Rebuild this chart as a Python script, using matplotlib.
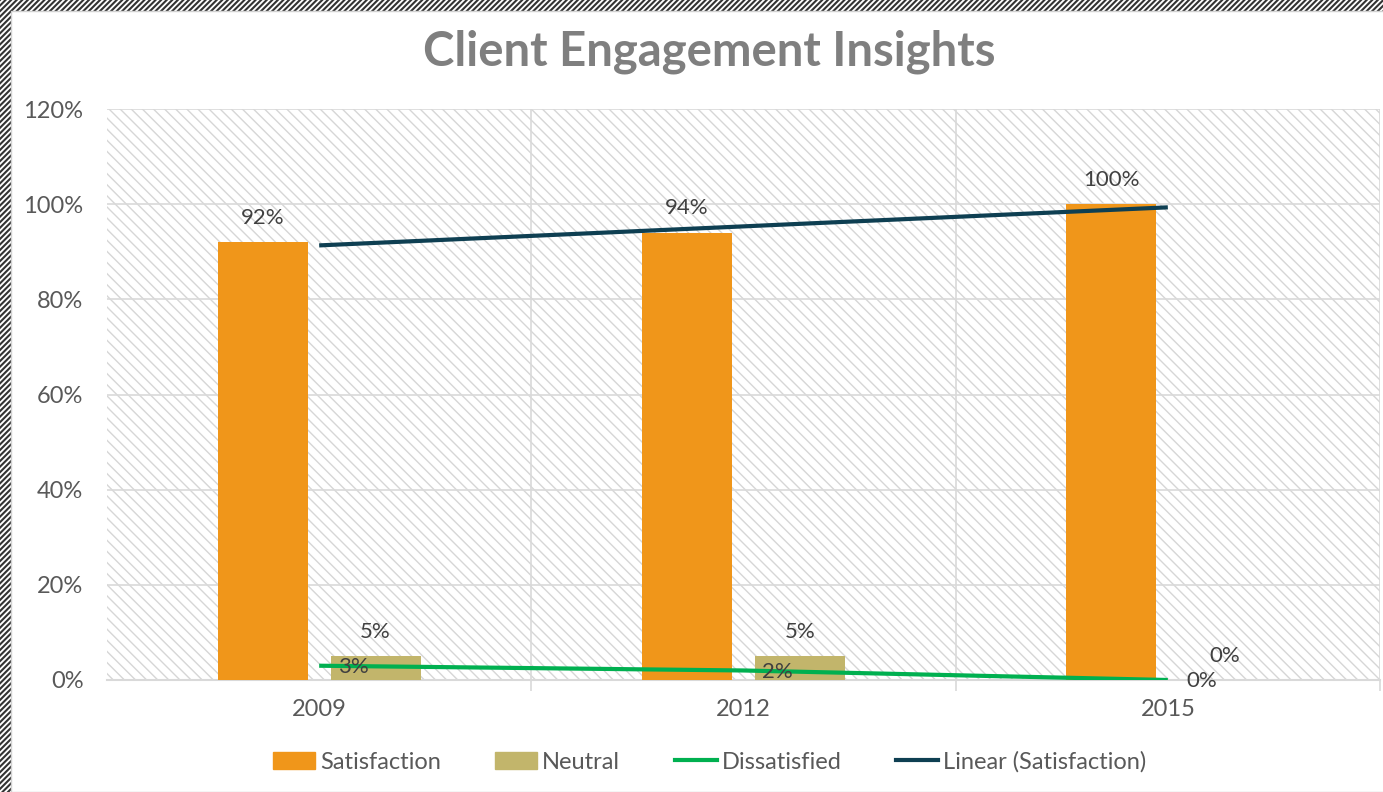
import numpy as np
import matplotlib
matplotlib.use("Agg")
import matplotlib.pyplot as plt
from matplotlib.patches import Rectangle, Patch
from matplotlib.lines import Line2D

# data
years = ["2009", "2012", "2015"]
satisfaction = [92, 94, 100]
neutral = [5, 5, 0]
dissatisfied = [3, 2, 0]
yticks = [0, 20, 40, 60, 80, 100, 120]

c_sat = "#F0961A"
c_neu = "#C2B56B"
c_dis = "#00B050"
c_trend = "#0E3F52"
c_text = "#595959"

plt.rcParams['font.family'] = ['Lato', 'DejaVu Sans']

fig = plt.figure(figsize=(13.83, 7.92), dpi=100)
W, H = 1383, 792

# hatched outer border (top & left)
plt.rcParams['hatch.linewidth'] = 1.5
plt.rcParams['hatch.color'] = "#333333"
bg = Rectangle((0, 0), 1, 1, transform=fig.transFigure, facecolor="white",
               edgecolor="#333333", hatch="//////", linewidth=0, zorder=-3)
fig.patches.append(bg)
inner = Rectangle((11 / W, 0), 1, 1 - 11 / H, transform=fig.transFigure,
                  facecolor="white", edgecolor="#d0d0d0", linewidth=1, zorder=-2)
fig.patches.append(inner)

ax = fig.add_axes([107 / W, 1 - 680 / H, (1380 - 107) / W, (680 - 109) / H])
ax.patch.set_visible(False)

x = np.arange(len(years))
# hatched plot area
plt.rcParams['hatch.linewidth'] = 1.0
plt.rcParams['hatch.color'] = "#d6d6d6"
pa = Rectangle((0, 0), 1, 1, transform=ax.transAxes, facecolor="white",
               edgecolor="#d6d6d6", hatch="\\\\\\", linewidth=0, zorder=0)
ax.add_patch(pa)

bw = 0.212
off = 0.133
ax.bar(x - off, satisfaction, width=bw, color=c_sat, zorder=3)
ax.bar(x + off, neutral, width=bw, color=c_neu, zorder=3)
ax.plot(x, dissatisfied, color=c_dis, lw=3, zorder=4, solid_capstyle="butt")

a, b = np.polyfit(x, satisfaction, 1)
ax.plot(x, a * x + b, color=c_trend, lw=3, zorder=4, solid_capstyle="butt")

fs = 17
for i in range(len(years)):
    ax.text(x[i] - off, satisfaction[i] + 3, f"{satisfaction[i]}%", ha="center",
            va="bottom", fontsize=16, color="#404040", zorder=5)
    ax.text(x[i] + off, neutral[i] + 3, f"{neutral[i]}%", ha="center",
            va="bottom", fontsize=16, color="#404040", zorder=5)
    ax.text(x[i] + 0.08, dissatisfied[i] - 0.3, f"{dissatisfied[i]}%", ha="center",
            va="center", fontsize=16, color="#404040", zorder=5)

ax.set_xlim(-0.5, 2.5)
ax.set_ylim(0, 120)
ax.set_yticks(yticks)
ax.set_yticklabels([f"{v}%" for v in yticks])
ax.set_xticks(x)
ax.set_xticklabels(years)
ax.set_xticks([0.5, 1.5, 2.5], minor=True)
ax.tick_params(axis="x", which="major", length=0, pad=14, labelsize=fs, labelcolor=c_text)
ax.tick_params(axis="x", which="minor", length=8, color="#d9d9d9", width=1.2)
ax.tick_params(axis="y", length=0, pad=17, labelsize=fs, labelcolor=c_text)
ax.grid(axis="y", color="#d9d9d9", lw=1.2, zorder=1)
ax.grid(axis="x", which="minor", color="#d9d9d9", lw=1.2, zorder=1)
for s in ["top", "right", "left"]:
    ax.spines[s].set_visible(False)
ax.spines["bottom"].set_color("#d9d9d9")
ax.spines["bottom"].set_linewidth(1.5)

fig.text(0.513, 1 - 52 / H, "Client Engagement Insights", ha="center", va="center",
         fontsize=34, fontweight="bold", color="#7F7F7F")

handles = [Patch(color=c_sat, label="Satisfaction"),
           Patch(color=c_neu, label="Neutral"),
           Line2D([0], [0], color=c_dis, lw=3, label="Dissatisfied"),
           Line2D([0], [0], color=c_trend, lw=3, label="Linear (Satisfaction)")]
leg = fig.legend(handles=handles, loc="center", bbox_to_anchor=(0.513, 1 - 762 / H),
                 ncol=4, frameon=False, fontsize=fs, handlelength=1.8,
                 handleheight=0.7, handletextpad=0.2, columnspacing=2.3)
for t in leg.get_texts():
    t.set_color(c_text)

fig.savefig("out.png", dpi=100)
